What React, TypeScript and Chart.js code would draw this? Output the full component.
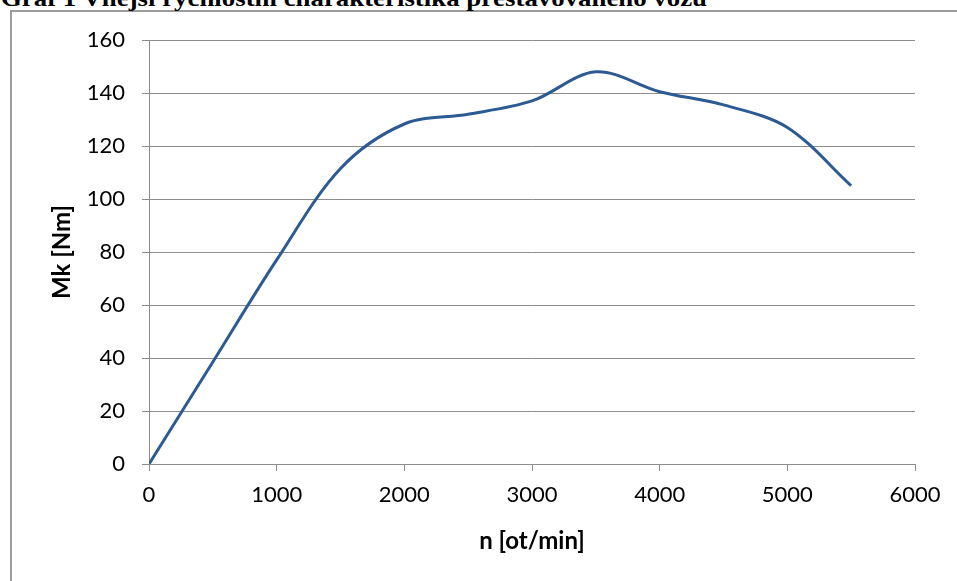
import React, { useEffect, useLayoutEffect, useRef } from "react";
import { Chart, registerables } from "chart.js";

Chart.register(...registerables);

// ---- data ----
const rpm = [0, 500, 1000, 1500, 2000, 2500, 3000, 3500, 4000, 4500, 5000, 5500];
const torque = [0, 38.5, 77, 111.5, 128.3, 132, 137, 148, 140.5, 135.5, 127, 105];
const xMin = 0;
const xMax = 6000;
const xStep = 1000;
const yMin = 0;
const yMax = 160;
const yStep = 20;
const pageTitle = "Graf 1 Vnější rychlostní charakteristika přestavovaného vozu";
const xTitle = "n [ot/min]";
const yTitle = "Mk [Nm]";

const LINE_COLOR = "#2C5A92";
const GRID_COLOR = "#8C8C8C";
const FONT = "Lato, 'Open Sans', sans-serif";

export default function App() {
  const canvasRef = useRef<HTMLCanvasElement | null>(null);
  const titleRef = useRef<HTMLSpanElement | null>(null);

  useLayoutEffect(() => {
    const el = titleRef.current;
    if (!el) return;
    const w = el.getBoundingClientRect().width;
    if (w > 0) el.style.transform = `scaleX(${706 / w})`;
  }, []);

  useEffect(() => {
    const canvas = canvasRef.current;
    if (!canvas) return;
    const chart = new Chart(canvas, {
      type: "line",
      data: {
        datasets: [
          {
            data: rpm.map((x, i) => ({ x, y: torque[i] })),
            borderColor: LINE_COLOR,
            borderWidth: 3,
            pointRadius: 0,
            tension: 0.33,
            fill: false,
          },
        ],
      },
      options: {
        animation: false,
        responsive: false,
        devicePixelRatio: 1,
        layout: { padding: { left: 0, top: 40, right: 42, bottom: 0 } },
        plugins: { legend: { display: false }, tooltip: { enabled: false } },
        scales: {
          x: {
            type: "linear",
            min: xMin,
            max: xMax,
            ticks: {
              stepSize: xStep,
              color: "#000",
              font: { family: FONT, size: 22 },
              padding: 11,
              maxRotation: 0,
              callback: (v: any) => String(v),
            },
            grid: { drawOnChartArea: false, drawTicks: true, tickLength: 7, color: GRID_COLOR, tickColor: GRID_COLOR },
            border: { display: true, color: GRID_COLOR, width: 1 },
            title: {
              display: true,
              text: xTitle,
              color: "#000",
              font: { family: FONT, size: 24, weight: "bold" },
              padding: { top: 0, bottom: 25 },
            },
            afterFit: (s: any) => {
              s.height = 117;
            },
          },
          y: {
            type: "linear",
            min: yMin,
            max: yMax,
            ticks: {
              stepSize: yStep,
              color: "#000",
              font: { family: FONT, size: 22 },
              padding: 17,
              callback: (v: any) => String(v),
            },
            grid: { drawOnChartArea: true, drawTicks: true, tickLength: 7, color: GRID_COLOR, tickColor: GRID_COLOR },
            border: { display: true, color: GRID_COLOR, width: 1 },
            title: {
              display: true,
              text: yTitle,
              color: "#000",
              font: { family: FONT, size: 24, weight: "bold" },
              padding: { top: 48, bottom: 0 },
            },
            afterFit: (s: any) => {
              s.width = 149;
            },
          },
        },
      },
    });
    return () => chart.destroy();
  }, []);

  return (
    <div
      style={{
        position: "fixed",
        left: 0,
        top: 0,
        width: 957,
        height: 581,
        overflow: "hidden",
        background: "#fff",
      }}
    >
      <div
        style={{
          position: "absolute",
          left: 10,
          top: 10,
          width: 1100,
          height: 800,
          border: "2px solid #9C9C9C",
          boxSizing: "border-box",
        }}
      />
      <span
        ref={titleRef}
        style={{
          position: "absolute",
          left: 1,
          top: -14,
          whiteSpace: "nowrap",
          fontFamily: "'Liberation Serif', 'Times New Roman', serif",
          fontWeight: "bold",
          fontSize: 24,
          lineHeight: 1,
          color: "#000",
          transformOrigin: "0 0",
        }}
      >
        {pageTitle}
      </span>
      <canvas
        ref={canvasRef}
        width={957}
        height={581}
        style={{ position: "absolute", left: 0, top: 0, width: 957, height: 581 }}
      />
    </div>
  );
}
